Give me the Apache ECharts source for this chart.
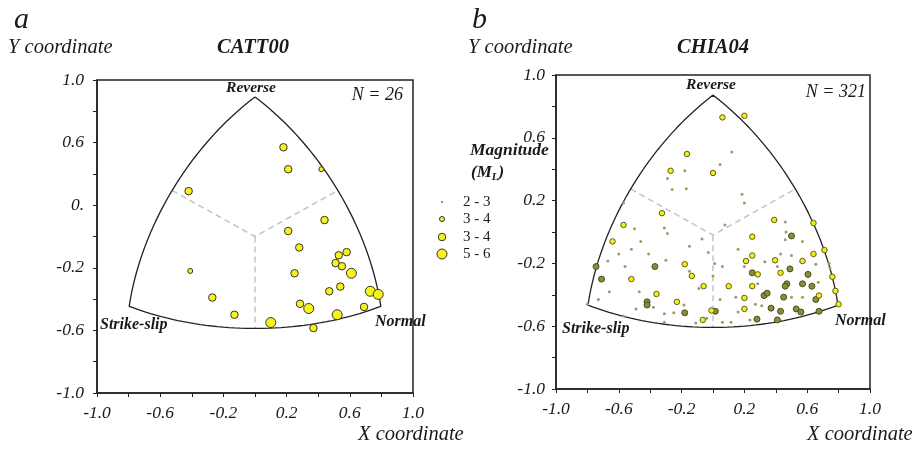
<!DOCTYPE html>
<html>
<head>
<meta charset="utf-8">
<script src="https://cdn.jsdelivr.net/npm/echarts@6/dist/echarts.min.js"></script>
<style>
  html, body { margin: 0; padding: 0; background: #fff; }
  #chart { width: 920px; height: 449px; }
</style>
</head>
<body>
<div id="chart"></div>
<script>
// tick labels (panel a has the odd "0." label in the original)
var xTickLabels = ['-1.0', '-0.6', '-0.2', '0.2', '0.6', '1.0'];
var yTickLabelsA = ['-1.0', '-0.6', '-0.2', '0.', '0.6', '1.0'];
var yTickLabelsB = ['-1.0', '-0.6', '-0.2', '0.2', '0.6', '1.0'];
var magClasses = ['2 - 3', '3 - 4', '3 - 4', '5 - 6'];

// CATT00, N = 26
var cattSmall = [[0.42, 0.43], [-0.41, -0.22]];
var cattMedium = [
  [0.18, 0.57], [0.21, 0.43], [-0.42, 0.29], [0.44, 0.105], [0.21, 0.035],
  [0.28, -0.07], [0.58, -0.10], [0.53, -0.12], [0.51, -0.17], [0.55, -0.19],
  [0.25, -0.235], [0.54, -0.32], [0.47, -0.35], [-0.27, -0.39], [0.285, -0.43],
  [0.69, -0.45], [-0.13, -0.50], [0.37, -0.585]
];
var cattLarge = [[0.61, -0.235], [0.73, -0.35], [0.78, -0.37], [0.34, -0.46], [0.52, -0.50], [0.10, -0.55]];

// CHIA04, N = 321
var chiaTiny = [
  [-0.18, 0.39], [-0.29, 0.34], [-0.26, 0.27], [-0.17, 0.275], [-0.57, 0.185],
  [0.12, 0.51], [0.045, 0.43], [0.185, 0.24], [0.20, 0.185], [0.46, 0.064],
  [0.076, 0.045], [-0.50, 0.02], [-0.31, 0.025], [-0.29, -0.01], [-0.46, -0.06],
  [-0.15, -0.09], [-0.07, -0.045], [-0.03, -0.13], [-0.52, -0.11], [-0.60, -0.14],
  [-0.41, -0.14], [-0.67, -0.185], [-0.56, -0.22], [-0.30, -0.18], [-0.15, -0.25],
  [-0.09, -0.36], [0.0, -0.28], [0.01, -0.20], [-0.66, -0.38], [-0.47, -0.38],
  [-0.73, -0.43], [-0.185, -0.465], [-0.49, -0.49], [-0.38, -0.48], [-0.31, -0.52],
  [-0.25, -0.515], [-0.57, -0.535], [-0.11, -0.58], [-0.31, -0.575], [-0.80, -0.46],
  [0.46, -0.05], [0.57, -0.06], [0.16, -0.11], [0.43, -0.14], [0.50, -0.15],
  [0.33, -0.19], [0.20, -0.22], [0.41, -0.22], [0.655, -0.205], [0.74, -0.20],
  [0.745, -0.23], [0.06, -0.22], [0.285, -0.33], [0.67, -0.32], [0.50, -0.415],
  [0.57, -0.415], [0.145, -0.415], [0.045, -0.43], [0.27, -0.46], [0.31, -0.47],
  [0.16, -0.51], [0.235, -0.56], [0.06, -0.575], [0.115, -0.575], [-0.04, -0.55],
  [0.465, 0.0]
];
var chiaSmall = [
  [-0.166, 0.497], [-0.27, 0.39], [0.0, 0.376], [-0.325, 0.12], [0.06, 0.73],
  [0.20, 0.74], [0.39, 0.077], [0.64, 0.057], [-0.57, 0.045], [-0.64, -0.06],
  [-0.18, -0.205], [-0.135, -0.28], [-0.52, -0.30], [-0.06, -0.345], [-0.36, -0.395],
  [-0.23, -0.445], [-0.01, -0.50], [-0.065, -0.56], [0.25, -0.03], [0.21, -0.185],
  [0.395, -0.18], [0.57, -0.185], [0.64, -0.14], [0.71, -0.115], [0.285, -0.27],
  [0.43, -0.26], [0.76, -0.285], [0.10, -0.345], [0.25, -0.345], [0.78, -0.375],
  [0.20, -0.42], [0.675, -0.405], [0.80, -0.46], [0.20, -0.49], [0.25, -0.15]
];
var chiaDark = [
  [-0.745, -0.22], [-0.37, -0.22], [-0.71, -0.30], [-0.42, -0.445], [-0.42, -0.465],
  [-0.18, -0.515], [0.015, -0.505], [0.50, -0.025], [0.49, -0.235], [0.25, -0.26],
  [0.605, -0.27], [0.47, -0.33], [0.46, -0.345], [0.57, -0.33], [0.63, -0.345],
  [0.325, -0.405], [0.345, -0.39], [0.45, -0.415], [0.655, -0.43], [0.37, -0.485],
  [0.43, -0.505], [0.53, -0.49], [0.56, -0.51], [0.675, -0.505], [0.28, -0.555],
  [0.41, -0.56]
];

// Kaverina et al. (1996) projection from sines of the T, B, P plunges
// (here T at the top = reverse, B left = strike-slip, P right = normal)
function kaverina(zt, zb, zp) {
  var L = 2 * Math.sin(0.5 * Math.acos(Math.min(1, (zt + zb + zp) / Math.sqrt(3))));
  var N = Math.sqrt(2 * ((zb - zp) * (zb - zp) + (zb - zt) * (zb - zt) + (zt - zp) * (zt - zp)));
  return [Math.sqrt(3) * (L / N) * (zp - zb), (L / N) * (2 * zt - zb - zp)];
}

// the published frames are slightly squashed vertically
function frame(yOff) {
  var fix = function (p) { return [p[0], p[1] * 0.97 + yOff]; };
  var pts = [];
  var k, t;
  for (k = 0; k <= 45; k++) { t = k * Math.PI / 90; pts.push(fix(kaverina(Math.cos(t), 0, Math.sin(t)))); }
  for (k = 1; k <= 45; k++) { t = k * Math.PI / 90; pts.push(fix(kaverina(0, Math.sin(t), Math.cos(t)))); }
  for (k = 1; k <= 45; k++) { t = k * Math.PI / 90; pts.push(fix(kaverina(Math.sin(t), Math.cos(t), 0))); }
  var h = Math.SQRT1_2;
  var c = [0, yOff];
  return {
    outline: pts,
    dashA: [fix(kaverina(h, h, 0)), c, fix(kaverina(h, 0, h))],
    dashB: [c, fix(kaverina(0, h, h))]
  };
}

var frameA = frame(0);
var frameB = frame(-0.02);

var serif = "'Liberation Serif', 'Times New Roman', serif";
var ink = '#1a1a1a';

function xAxisFor(gi) {
  return {
    gridIndex: gi, type: 'value', min: -1, max: 1, interval: 0.4,
    axisLine: { onZero: false, lineStyle: { color: '#222', width: 1.5 } },
    axisTick: { length: 4, lineStyle: { color: '#222' } },
    minorTick: { show: true, splitNumber: 2, length: 4, lineStyle: { color: '#222' } },
    splitLine: { show: false },
    axisLabel: {
      margin: 11, fontFamily: serif, fontStyle: 'italic', fontSize: 17.5, color: ink,
      formatter: function (v, i) { return xTickLabels[i]; }
    }
  };
}
function yAxisFor(gi, labels, margin) {
  return {
    gridIndex: gi, type: 'value', min: -1, max: 1, interval: 0.4,
    axisLine: { onZero: false, lineStyle: { color: '#222', width: 1.5 } },
    axisTick: { length: 4, lineStyle: { color: '#222' } },
    minorTick: { show: true, splitNumber: 2, length: 4, lineStyle: { color: '#222' } },
    splitLine: { show: false },
    axisLabel: {
      margin: margin, fontFamily: serif, fontStyle: 'italic', fontSize: 17.5, color: ink,
      formatter: function (v, i) { return labels[i]; }
    }
  };
}

function outlineSeries(gi, data) {
  return {
    type: 'line', xAxisIndex: gi, yAxisIndex: gi, data: data, showSymbol: false,
    lineStyle: { color: '#222', width: 1.3 }, silent: true, z: 3
  };
}
function dashSeries(gi, data) {
  return {
    type: 'line', xAxisIndex: gi, yAxisIndex: gi, data: data, showSymbol: false,
    lineStyle: { color: '#c4c4c4', width: 1.5, type: [6, 4] }, silent: true, z: 2
  };
}
function dots(gi, data, size, fill, border, bw) {
  return {
    type: 'scatter', xAxisIndex: gi, yAxisIndex: gi, data: data, symbolSize: size,
    itemStyle: { color: fill, borderColor: border, borderWidth: bw, opacity: 1 },
    silent: true, z: 4
  };
}

function txt(x, y, s, size, weight, style, align) {
  return {
    type: 'text', x: x, y: y,
    style: {
      text: s, fill: ink, fontFamily: serif, fontSize: size, fontWeight: weight || 'normal',
      fontStyle: style || 'italic', textAlign: align || 'left', textVerticalAlign: 'middle'
    }
  };
}

var legendSizes = [2.4, 5, 7.5, 10];
var legendFill = ['#9c9c6a', '#f7f21a', '#f7f21a', '#f7f21a'];
var legendY = [202, 219, 237, 254];

var graphics = [
  txt(14, 20, 'a', 30, 'normal'),
  txt(472, 20, 'b', 30, 'normal'),
  txt(8, 48, 'Y coordinate', 20.5),
  txt(468, 48, 'Y coordinate', 20.5),
  txt(253, 48, 'CATT00', 20.5, 'bold', 'italic', 'center'),
  txt(713, 48, 'CHIA04', 20.5, 'bold', 'italic', 'center'),
  txt(251, 88, 'Reverse', 15.5, 'bold', 'italic', 'center'),
  txt(711, 85, 'Reverse', 15.5, 'bold', 'italic', 'center'),
  txt(403, 95, 'N = 26', 18, 'normal', 'italic', 'right'),
  txt(866, 92, 'N = 321', 18, 'normal', 'italic', 'right'),
  txt(100, 325, 'Strike-slip', 16, 'bold'),
  txt(562, 329, 'Strike-slip', 16, 'bold'),
  txt(375, 322, 'Normal', 16, 'bold'),
  txt(835, 321, 'Normal', 16, 'bold'),
  txt(358, 435, 'X coordinate', 20.5),
  txt(807, 435, 'X coordinate', 20.5),
  txt(470, 150, 'Magnitude', 17.5, 'bold'),
  {
    type: 'text', x: 471, y: 173,
    style: {
      text: '{m|(M}{s|L}{m|)}', fill: ink, textVerticalAlign: 'middle',
      rich: {
        m: { fontFamily: serif, fontSize: 17, fontWeight: 'bold', fontStyle: 'italic', fill: ink },
        s: { fontFamily: serif, fontSize: 11, fontWeight: 'bold', fontStyle: 'italic', fill: ink, padding: [9, 0, 0, 0] }
      }
    }
  }
];
magClasses.forEach(function (name, i) {
  graphics.push({
    type: 'circle', shape: { cx: 442, cy: legendY[i], r: legendSizes[i] / 2 },
    style: { fill: legendFill[i], stroke: i === 0 ? null : '#333', lineWidth: 1 }
  });
  graphics.push(txt(463, legendY[i], name, 15, 'normal', 'normal'));
});

var chart = echarts.init(document.getElementById('chart'), null, { renderer: 'canvas' });
chart.setOption({
  animation: false,
  backgroundColor: '#fff',
  grid: [
    { left: 97, top: 80, width: 316, height: 313, show: true, borderColor: '#222', borderWidth: 1.5 },
    { left: 556, top: 75, width: 314, height: 314, show: true, borderColor: '#222', borderWidth: 1.5 }
  ],
  xAxis: [xAxisFor(0), xAxisFor(1)],
  yAxis: [yAxisFor(0, yTickLabelsA, 13), yAxisFor(1, yTickLabelsB, 11)],
  series: [
    dashSeries(0, frameA.dashA), dashSeries(0, frameA.dashB), outlineSeries(0, frameA.outline),
    dashSeries(1, frameB.dashA), dashSeries(1, frameB.dashB), outlineSeries(1, frameB.outline),
    dots(0, cattSmall, 5, '#f7f21a', '#333', 1),
    dots(0, cattMedium, 7.5, '#f7f21a', '#333', 1),
    dots(0, cattLarge, 10, '#f7f21a', '#333', 1),
    dots(1, chiaTiny, 3, '#9c9c6a', 'transparent', 0),
    dots(1, chiaDark, 6, '#8a8a3a', '#4d4d18', 1),
    dots(1, chiaSmall, 5.5, '#f2ee1a', '#5e5e1a', 1)
  ],
  graphic: graphics
});
</script>
</body>
</html>
